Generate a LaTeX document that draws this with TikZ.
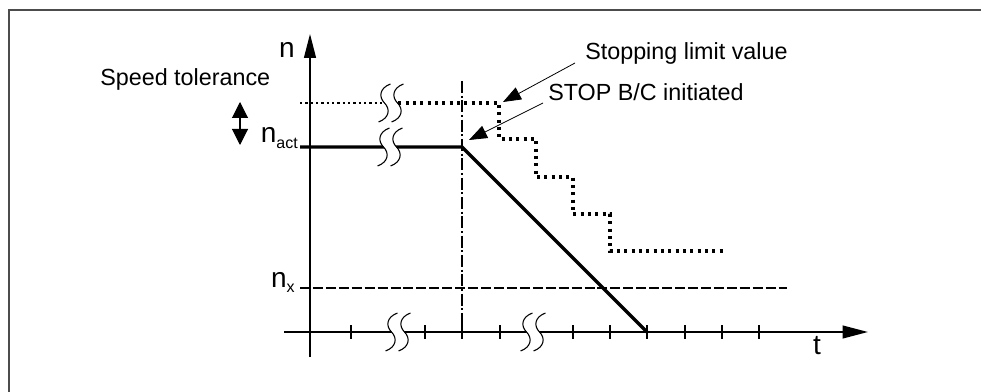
\documentclass[tikz,border=0pt]{standalone}
\usepackage{fontspec}
\setmainfont{Liberation Sans}
\usetikzlibrary{arrows.meta}

\tikzset{
  gapmark/.pic={
    \draw[white, line width=7.5pt] (6,-19) .. controls (-5,-15) and (-6,-6) .. (0,0) .. controls (6,6) and (5,15) .. (-6,19);
    \foreach \dx in {-6.5,6.5}
      \draw[black, line width=0.8pt, shift={(\dx,0)}] (6,-19) .. controls (-5,-15) and (-6,-6) .. (0,0) .. controls (6,6) and (5,15) .. (-6,19);
  }
}

\begin{document}
\begin{tikzpicture}[x=0.75pt, y=-0.75pt,
  lbl/.style={font=\fontsize{17.5}{20}\selectfont, inner sep=0},
  axlbl/.style={font=\fontsize{21}{24}\selectfont, inner sep=0},
  limit/.style={line width=2.3pt, dash pattern=on 2.3pt off 3.2pt},
  pointer/.style={line width=0.6pt, -{Triangle[length=13.5pt,width=10pt]}}]
  \useasboundingbox (0,0) rectangle (981,392);
  \draw[gray!60!black, line width=1.5pt] (9,392) |- (981,10);

  % axes
  \draw[line width=1pt, -{Triangle[length=18pt,width=9pt]}] (310,357) -- (310,34);
  \draw[line width=1.5pt, -{Triangle[length=19pt,width=9.5pt]}] (284,332) -- (868,332);
  \foreach \x in {351,425,462,500,573,610,647,685,722,759}
    \draw[line width=1.5pt] (\x,325) -- (\x,339);
  \node[axlbl, anchor=base] (nlab) at (287,58) {n};
  \node[axlbl, anchor=base] (tlab) at (817,354) {t};

  % levels
  \draw[line width=1.8pt, dash pattern=on 1.8pt off 2.2pt] (300,103) -- (391,103);
  \draw[limit] (391,103) -| (499,139) -| (536,177) -| (573,214) -| (610,251) -- (725,251);
  \draw[line width=2.6pt] (300,147) -- (462,147) -- (647,332);
  \draw[line width=1.2pt, dash pattern=on 9pt off 2pt on 1.5pt off 2pt] (462,81) -- (462,332);
  \draw[line width=1.5pt, dash pattern=on 7.5pt off 2.2pt] (300,288) -- (787,288);
  \node[axlbl, anchor=base east] (nact) at (298,143) {n\raisebox{-0.4ex}{\fontsize{12}{12}\selectfont act}};
  \node[axlbl, anchor=base east] (nx) at (295,287) {n\raisebox{-0.4ex}{\fontsize{12}{12}\selectfont x}};

  % breaks
  \pic at (391,103) {gapmark};
  \pic at (390,147) {gapmark};
  \pic at (398,332) {gapmark};
  \pic at (533,332) {gapmark};

  % tolerance
  \node[lbl, anchor=base west] (tol) at (100,86) {Speed tolerance};
  \coordinate (tolhi) at (240,102);
  \coordinate (tollo) at (240,145);
  \draw[line width=0.8pt, {Triangle[length=12pt,width=12pt]}-{Triangle[length=12pt,width=12pt]}] (tolhi) -- (tollo);

  % annotations
  \node[lbl, anchor=base west] (slv) at (585,60) {Stopping limit value};
  \node[lbl, anchor=base west] (stopbc) at (548,101) {STOP B/C initiated};
  \coordinate (slvtip) at (503,102);
  \coordinate (stoptip) at (469,140);
  \draw[pointer] ([shift={(-10,3)}]slv.base west) -- (slvtip);
  \draw[pointer] ([shift={(-5,2)}]stopbc.base west) -- (stoptip);
\end{tikzpicture}
\end{document}
